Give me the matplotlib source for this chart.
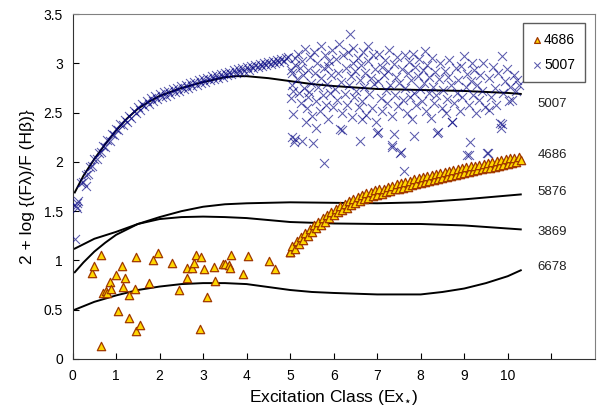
import matplotlib
matplotlib.use("Agg")
import matplotlib.pyplot as plt

plt.rcParams['font.family'] = ['Liberation Sans', 'DejaVu Sans']

# 4686 scattered points (low excitation)
he2_x_low = [0.65, 0.44, 0.50, 0.65, 0.71, 0.77, 0.78, 0.86, 0.88, 1.00, 1.05, 1.13,
             1.15, 1.20, 1.30, 1.30, 1.45, 1.43, 1.45, 1.55, 1.76, 1.84, 1.96, 2.29,
             2.45, 2.64, 2.62, 2.74, 2.79, 2.83, 2.93, 2.95, 3.01, 3.08, 3.24, 3.27,
             3.45, 3.50, 3.60, 3.62, 3.63, 3.91, 4.04, 4.52, 4.66, 5.00]
he2_y_low = [0.135, 0.87, 0.94, 1.06, 0.67, 0.69, 0.67, 0.78, 0.71, 0.85, 0.49, 0.94,
             0.73, 0.82, 0.65, 0.42, 1.03, 0.71, 0.28, 0.34, 0.77, 1.00, 1.08, 0.97,
             0.70, 0.82, 0.92, 0.92, 0.97, 1.06, 0.30, 1.03, 0.91, 0.63, 0.93, 0.79,
             0.96, 0.96, 0.95, 0.92, 1.06, 0.86, 1.05, 0.99, 0.91, 1.09]

# 4686 dense band (high excitation)
he2_x_band = [5.00, 5.05, 5.10, 5.15, 5.20, 5.25, 5.30, 5.35, 5.40, 5.45, 5.50, 5.55,
              5.60, 5.65, 5.70, 5.75, 5.80, 5.85, 5.90, 5.95, 6.00, 6.05, 6.10, 6.15,
              6.20, 6.25, 6.30, 6.35, 6.40, 6.45, 6.50, 6.55, 6.60, 6.65, 6.70, 6.75,
              6.80, 6.85, 6.90, 6.95, 7.00, 7.05, 7.10, 7.15, 7.20, 7.25, 7.30, 7.35,
              7.40, 7.45, 7.50, 7.55, 7.60, 7.65, 7.70, 7.75, 7.80, 7.85, 7.90, 7.95,
              8.00, 8.05, 8.10, 8.15, 8.20, 8.25, 8.30, 8.35, 8.40, 8.45, 8.50, 8.55,
              8.60, 8.65, 8.70, 8.75, 8.80, 8.85, 8.90, 8.95, 9.00, 9.05, 9.10, 9.15,
              9.20, 9.25, 9.30, 9.35, 9.40, 9.45, 9.50, 9.55, 9.60, 9.65, 9.70, 9.75,
              9.80, 9.85, 9.90, 9.95, 10.00, 10.05, 10.10, 10.15, 10.20, 10.25, 10.30]
he2_y_band = [1.09, 1.15, 1.12, 1.20, 1.17, 1.24, 1.21, 1.28, 1.25, 1.32, 1.29, 1.36,
              1.33, 1.39, 1.36, 1.43, 1.39, 1.46, 1.43, 1.49, 1.46, 1.52, 1.49, 1.55,
              1.51, 1.57, 1.53, 1.60, 1.56, 1.62, 1.58, 1.64, 1.60, 1.66, 1.62, 1.68,
              1.63, 1.69, 1.65, 1.71, 1.66, 1.72, 1.67, 1.73, 1.69, 1.75, 1.70, 1.76,
              1.72, 1.78, 1.73, 1.79, 1.74, 1.80, 1.75, 1.81, 1.77, 1.83, 1.78, 1.84,
              1.79, 1.85, 1.80, 1.86, 1.81, 1.87, 1.82, 1.88, 1.83, 1.89, 1.84, 1.90,
              1.85, 1.91, 1.86, 1.92, 1.87, 1.93, 1.88, 1.94, 1.89, 1.95, 1.90, 1.96,
              1.91, 1.96, 1.92, 1.97, 1.93, 1.98, 1.94, 1.99, 1.94, 2.00, 1.95, 2.01,
              1.96, 2.02, 1.97, 2.03, 1.98, 2.04, 1.99, 2.04, 2.00, 2.05, 2.02]

# 5007 points near Ex = 0
o3_x_start = [0.05, 0.08, 0.09, 0.10, 0.12, 0.30]
o3_y_start = [1.22, 1.55, 1.53, 1.58, 1.60, 1.76]

# 5007 dense band (low excitation)
o3_x_band = [0.20, 0.25, 0.30, 0.35, 0.40, 0.45, 0.50, 0.55, 0.60, 0.65, 0.70, 0.75,
             0.80, 0.85, 0.90, 0.95, 1.00, 1.05, 1.10, 1.15, 1.20, 1.25, 1.30, 1.35,
             1.40, 1.45, 1.50, 1.55, 1.60, 1.65, 1.70, 1.75, 1.80, 1.85, 1.90, 1.95,
             2.00, 2.05, 2.10, 2.15, 2.20, 2.25, 2.30, 2.35, 2.40, 2.45, 2.50, 2.55,
             2.60, 2.65, 2.70, 2.75, 2.80, 2.85, 2.90, 2.95, 3.00, 3.05, 3.10, 3.15,
             3.20, 3.25, 3.30, 3.35, 3.40, 3.45, 3.50, 3.55, 3.60, 3.65, 3.70, 3.75,
             3.80, 3.85, 3.90, 3.95, 4.00, 4.05, 4.10, 4.15, 4.20, 4.25, 4.30, 4.35,
             4.40, 4.45, 4.50, 4.55, 4.60, 4.65, 4.70, 4.75, 4.80, 4.85, 4.90, 4.95]
o3_y_band = [1.79, 1.80, 1.87, 1.88, 1.95, 1.96, 2.03, 2.03, 2.09, 2.10, 2.16, 2.15,
             2.22, 2.21, 2.28, 2.27, 2.33, 2.32, 2.38, 2.37, 2.43, 2.41, 2.47, 2.45,
             2.52, 2.50, 2.56, 2.53, 2.59, 2.57, 2.62, 2.59, 2.65, 2.62, 2.67, 2.64,
             2.69, 2.66, 2.71, 2.67, 2.72, 2.69, 2.74, 2.71, 2.75, 2.72, 2.77, 2.74,
             2.78, 2.75, 2.80, 2.77, 2.81, 2.78, 2.83, 2.80, 2.84, 2.81, 2.85, 2.83,
             2.87, 2.84, 2.88, 2.85, 2.89, 2.86, 2.90, 2.88, 2.91, 2.89, 2.93, 2.90,
             2.94, 2.91, 2.95, 2.92, 2.96, 2.93, 2.97, 2.95, 2.98, 2.96, 2.99, 2.97,
             3.00, 2.98, 3.01, 2.99, 3.02, 3.00, 3.03, 3.01, 3.04, 3.02, 3.05, 3.06]

# 5007 scattered cloud (high excitation)
o3_x_cloud = [5.02, 5.05, 5.04, 5.06, 5.03, 5.07, 5.05, 5.08, 5.10, 5.12, 5.15, 5.18,
              5.20, 5.22, 5.25, 5.27, 5.30, 5.32, 5.35, 5.38, 5.40, 5.42, 5.45, 5.47,
              5.50, 5.12, 5.28, 5.52, 5.36, 5.44,
              5.55, 5.58, 5.60, 5.62, 5.65, 5.68, 5.70, 5.72, 5.75, 5.77, 5.78, 5.80,
              5.83, 5.85, 5.88, 5.90, 5.92, 5.95, 5.97, 5.98, 5.60, 5.86,
              6.02, 6.05, 6.08, 6.10, 6.12, 6.15, 6.17, 6.20, 6.22, 6.25, 6.28, 6.30,
              6.33, 6.35, 6.38, 6.40, 6.42, 6.45, 6.47, 6.50, 6.19, 6.44,
              6.52, 6.55, 6.58, 6.60, 6.61, 6.63, 6.65, 6.68, 6.70, 6.73, 6.75, 6.78,
              6.80, 6.82, 6.85, 6.88, 6.90, 6.92, 6.95, 6.97, 7.00, 6.66,
              7.01, 7.03, 7.05, 7.08, 7.10, 7.12, 7.15, 7.18, 7.20, 7.22, 7.25, 7.28,
              7.30, 7.33, 7.34, 7.35, 7.38, 7.39, 7.40, 7.43, 7.45, 7.48,
              7.50, 7.53, 7.55, 7.57, 7.60, 7.62, 7.63, 7.65, 7.68, 7.70, 7.73, 7.75,
              7.78, 7.80, 7.82, 7.84, 7.85, 7.88, 7.90, 7.93, 7.95, 7.98,
              8.02, 8.05, 8.08, 8.11, 8.13, 8.15, 8.18, 8.20, 8.23, 8.25, 8.28, 8.30,
              8.33, 8.36, 8.38, 8.40, 8.42, 8.45, 8.48,
              8.52, 8.55, 8.58, 8.60, 8.63, 8.66, 8.70, 8.72, 8.73, 8.76, 8.80, 8.83,
              8.86, 8.90, 8.93, 8.96, 8.99,
              9.03, 9.06, 9.07, 9.10, 9.12, 9.14, 9.15, 9.17, 9.20, 9.23, 9.26, 9.30,
              9.33, 9.36, 9.40, 9.44, 9.47,
              9.52, 9.54, 9.56, 9.58, 9.62, 9.66, 9.70, 9.74, 9.78, 9.83, 9.84, 9.87,
              9.87, 9.90, 9.94, 9.98, 10.02, 10.06, 10.10, 10.14, 10.18, 10.22, 10.26]
o3_y_cloud = [2.93, 2.90, 2.78, 2.72, 2.65, 2.49, 2.25, 2.20, 3.05, 2.98, 2.84, 3.10,
              2.70, 2.95, 2.60, 3.02, 2.88, 2.75, 3.15, 2.55, 2.93, 2.66, 3.06, 2.80,
              2.47, 2.23, 2.21, 2.19, 2.40, 2.71,
              3.12, 2.90, 2.62, 3.00, 2.76, 2.52, 3.18, 2.85, 2.68, 1.99, 2.95, 3.08,
              2.58, 2.79, 2.44, 3.02, 2.70, 2.88, 3.14, 2.56, 2.34, 2.97,
              2.74, 3.04, 2.63, 2.90, 3.20, 2.33, 2.81, 2.50, 3.08, 2.69, 2.95, 2.58,
              3.12, 2.78, 3.30, 2.87, 2.46, 3.00, 2.66, 2.92, 2.32, 3.16,
              2.72, 3.05, 2.56, 2.83, 2.21, 2.98, 2.62, 3.12, 2.76, 2.90, 2.48, 3.02,
              3.18, 2.69, 2.85, 2.55, 3.08, 2.79, 2.94, 2.40, 2.29, 2.44,
              2.30, 2.82, 3.10, 2.65, 2.96, 2.52, 2.88, 3.03, 2.73, 2.60, 2.92, 3.14,
              2.78, 2.47, 2.17, 2.15, 2.99, 2.28, 2.68, 2.86, 3.06, 2.57,
              2.80, 2.09, 2.10, 2.94, 2.63, 1.91, 3.08, 2.75, 2.50, 2.90, 3.01, 2.66,
              2.83, 2.44, 3.10, 2.26, 2.70, 2.96, 2.58, 2.87, 3.04, 2.74,
              2.62, 2.93, 2.80, 3.13, 2.52, 2.98, 2.70, 2.86, 2.45, 3.05, 2.76, 2.60,
              2.91, 2.68, 2.29, 2.30, 2.84, 3.00, 2.55,
              2.73, 2.92, 2.50, 2.64, 2.86, 3.03, 2.78, 2.41, 2.40, 2.60, 2.95, 2.70,
              2.83, 2.52, 2.97, 2.66, 3.07,
              2.76, 2.89, 2.07, 2.07, 2.58, 2.20, 2.82, 3.00, 2.68, 2.93, 2.50, 2.78,
              2.63, 2.88, 2.72, 3.00, 2.56,
              2.09, 2.09, 2.53, 2.85, 2.66, 2.96, 2.75, 2.58, 2.90, 2.39, 2.34, 2.38,
              3.07, 2.70, 2.82, 2.94, 2.62, 2.76, 2.63, 2.88, 2.72, 2.83, 2.78]

# model curves
curve_names = ['5007', '4686', '5876', '3869', '6678']
curve_5007_x = [0.05, 0.25, 0.5, 0.75, 1.0, 1.25, 1.5, 1.75, 2.0, 2.5, 3.0, 3.5, 3.75,
                4.0, 4.5, 5.0, 5.5, 6.0, 7.0, 8.0, 9.0, 10.0, 10.3]
curve_5007_y = [1.69, 1.86, 2.03, 2.18, 2.32, 2.44, 2.54, 2.61, 2.67, 2.75, 2.81, 2.86,
                2.87, 2.87, 2.85, 2.82, 2.79, 2.77, 2.74, 2.73, 2.72, 2.70, 2.69]
curve_5876_x = [0.05, 0.25, 0.5, 0.75, 1.0, 1.5, 2.0, 2.5, 3.0, 3.5, 4.0, 5.0, 6.0,
                7.0, 8.0, 9.0, 10.3]
curve_5876_y = [0.88, 0.98, 1.09, 1.18, 1.26, 1.37, 1.44, 1.50, 1.545, 1.57, 1.58, 1.59,
                1.585, 1.58, 1.59, 1.62, 1.67]
curve_3869_x = [0.05, 0.5, 1.0, 1.5, 2.0, 2.5, 3.0, 3.5, 4.0, 5.0, 6.0, 7.0, 8.0, 9.0, 10.3]
curve_3869_y = [1.12, 1.22, 1.29, 1.37, 1.42, 1.44, 1.445, 1.44, 1.43, 1.39, 1.375, 1.37,
                1.37, 1.355, 1.315]
curve_6678_x = [0.05, 0.5, 1.0, 1.5, 2.0, 2.5, 3.0, 3.5, 4.0, 4.5, 5.0, 5.5, 6.0, 7.0,
                8.0, 8.5, 9.0, 9.5, 10.0, 10.3]
curve_6678_y = [0.50, 0.58, 0.645, 0.70, 0.735, 0.76, 0.77, 0.77, 0.76, 0.73, 0.70, 0.68,
                0.67, 0.655, 0.655, 0.68, 0.715, 0.77, 0.84, 0.90]
label_y = [2.59, 2.07, 1.69, 1.29, 0.93]

x_ticks = list(range(0, 12))
x_ticklabels = [str(t) for t in range(0, 11)] + ['']
y_ticks = [0, 0.5, 1, 1.5, 2, 2.5, 3, 3.5]
y_ticklabels = ['0', '0.5', '1', '1.5', '2', '2.5', '3', '3.5']

fig = plt.figure(figsize=(6.1, 4.15), dpi=100)
ax = fig.add_axes([0.119, 0.135, 0.856, 0.831])

# curves
for cx, cy in [(curve_5007_x, curve_5007_y), (curve_5876_x, curve_5876_y),
               (curve_3869_x, curve_3869_y), (curve_6678_x, curve_6678_y)]:
    ax.plot(cx, cy, color='black', lw=1.4, zorder=2)

# 5007 points
o3_color = '#000080'
ax.scatter(o3_x_start + o3_x_band + o3_x_cloud, o3_y_start + o3_y_band + o3_y_cloud,
           marker='x', s=42, color=o3_color, linewidths=0.75, alpha=0.65, zorder=3,
           label='5007')

# 4686 points
ax.scatter(he2_x_low + he2_x_band, he2_y_low + he2_y_band, marker='^', s=36,
           facecolor='#ffd700', edgecolor='#a03800', linewidths=0.9, zorder=4,
           label='4686')

# labels for the curves
for name, ly in zip(curve_names, label_y):
    ax.text(10.68, ly, name, fontsize=9.5, va='center', ha='left', color='#222222')

ax.set_xlim(0, 12)
ax.set_ylim(0, 3.5)
ax.set_xticks(x_ticks)
ax.set_xticklabels(x_ticklabels)
ax.set_yticks(y_ticks)
ax.set_yticklabels(y_ticklabels)
ax.tick_params(direction='in', length=4, width=0.8, labelsize=10, pad=7)

for side in ['left', 'bottom']:
    ax.spines[side].set_color('#333333')
for side in ['top', 'right']:
    ax.spines[side].set_color('#808080')

ax.set_xlabel(r'Excitation Class (Ex$_{\star}$)', fontsize=12.5, labelpad=4)
ax.set_ylabel('2 + log {(F\u03bb)/F (H\u03b2)}', fontsize=12.5, labelpad=6)

handles, labels = ax.get_legend_handles_labels()
leg = ax.legend(handles[::-1], labels[::-1], loc='upper right',
                bbox_to_anchor=(0.981, 0.974), borderaxespad=0, fontsize=10,
                frameon=True, fancybox=False, handlelength=0.6, handletextpad=0.2,
                borderpad=0.7, labelspacing=0.8, markerscale=0.7)
leg.get_frame().set_edgecolor('#333333')
leg.get_frame().set_linewidth(1.0)

fig.savefig('out.png', dpi=100)
